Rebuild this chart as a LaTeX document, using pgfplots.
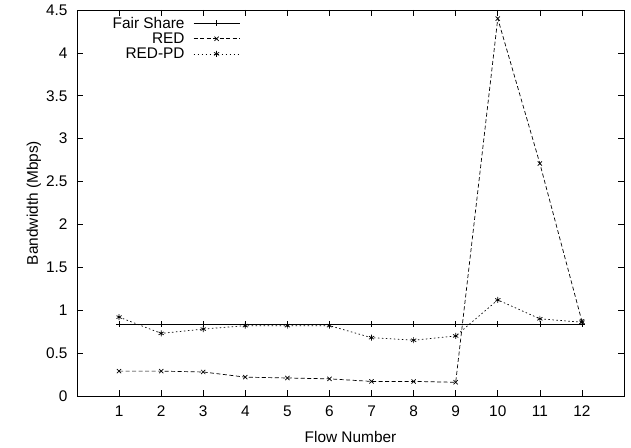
\documentclass[border=0pt]{standalone}
\usepackage{fontspec}
\setmainfont{Liberation Sans}
\usepackage{pgfplots}
\pgfplotsset{compat=1.18}

\begin{document}
\begin{tikzpicture}[font=\fontsize{15.4}{17}\selectfont]
\begin{axis}[
  name=a,
  scale only axis,
  width=547pt, height=386pt,
  xmin=0, xmax=13, ymin=0, ymax=4.5,
  xtick={1,...,12},
  ytick={0,0.5,...,4.5},
  yticklabels={0,0.5,1,1.5,2,2.5,3,3.5,4,4.5},
  tick align=inside,
  major tick length=6pt,
  tick style={black, line width=0.6pt},
  axis line style={line width=0.8pt},
  /pgf/number format/assume math mode=true,
  tick label style={font=\fontsize{15.4}{17}\selectfont},
  xticklabel style={yshift=-6pt},
  yticklabel style={xshift=-6pt},
  label style={font=\fontsize{15.4}{17}\selectfont},
  xlabel={Flow Number},
  ylabel={Bandwidth (Mbps)},
  xlabel style={yshift=-8pt},
  ylabel style={yshift=-2pt},
  legend style={draw=none, fill=none, at={(0.30,0.99)}, anchor=north east,
    legend cell align=right, row sep=-1pt, inner sep=1pt,
    font=\fontsize{15.4}{16}\selectfont},
  legend plot pos=right,
  legend image code/.code={
    \path[draw=none] (0pt,-1pt) -- (0pt,1pt);
    \draw[mark=none] (7pt,0pt) -- (53pt,0pt);
    \draw[only marks] plot coordinates {(30pt,0pt)};},
  every axis plot/.append style={black, line width=0.7pt, mark size=3pt, mark options={solid, line width=0.7pt}},
]
\addplot[mark=+] coordinates {
  (1,0.837) (2,0.837) (3,0.837) (4,0.837) (5,0.837) (6,0.837)
  (7,0.837) (8,0.837) (9,0.837) (10,0.837) (11,0.837) (12,0.837)};
\addlegendentry{Fair Share}
\addplot[mark=x, dash pattern=on 4pt off 2.5pt] coordinates {
  (1,0.29) (2,0.29) (3,0.28) (4,0.22) (5,0.21) (6,0.20)
  (7,0.17) (8,0.17) (9,0.16) (10,4.40) (11,2.71) (12,0.87)};
\addlegendentry{RED}
\addplot[mark=asterisk, dash pattern=on 1.5pt off 2.5pt] coordinates {
  (1,0.92) (2,0.73) (3,0.78) (4,0.82) (5,0.82) (6,0.82)
  (7,0.68) (8,0.65) (9,0.70) (10,1.12) (11,0.90) (12,0.86)};
\addlegendentry{RED-PD}
\end{axis}
\pgfresetboundingbox
\path (a.south west) ++(-77pt,-51pt) coordinate (bl);
\path (a.north east) ++(7pt,10pt) coordinate (tr);
\path (bl) rectangle (tr);
\end{tikzpicture}
\end{document}
